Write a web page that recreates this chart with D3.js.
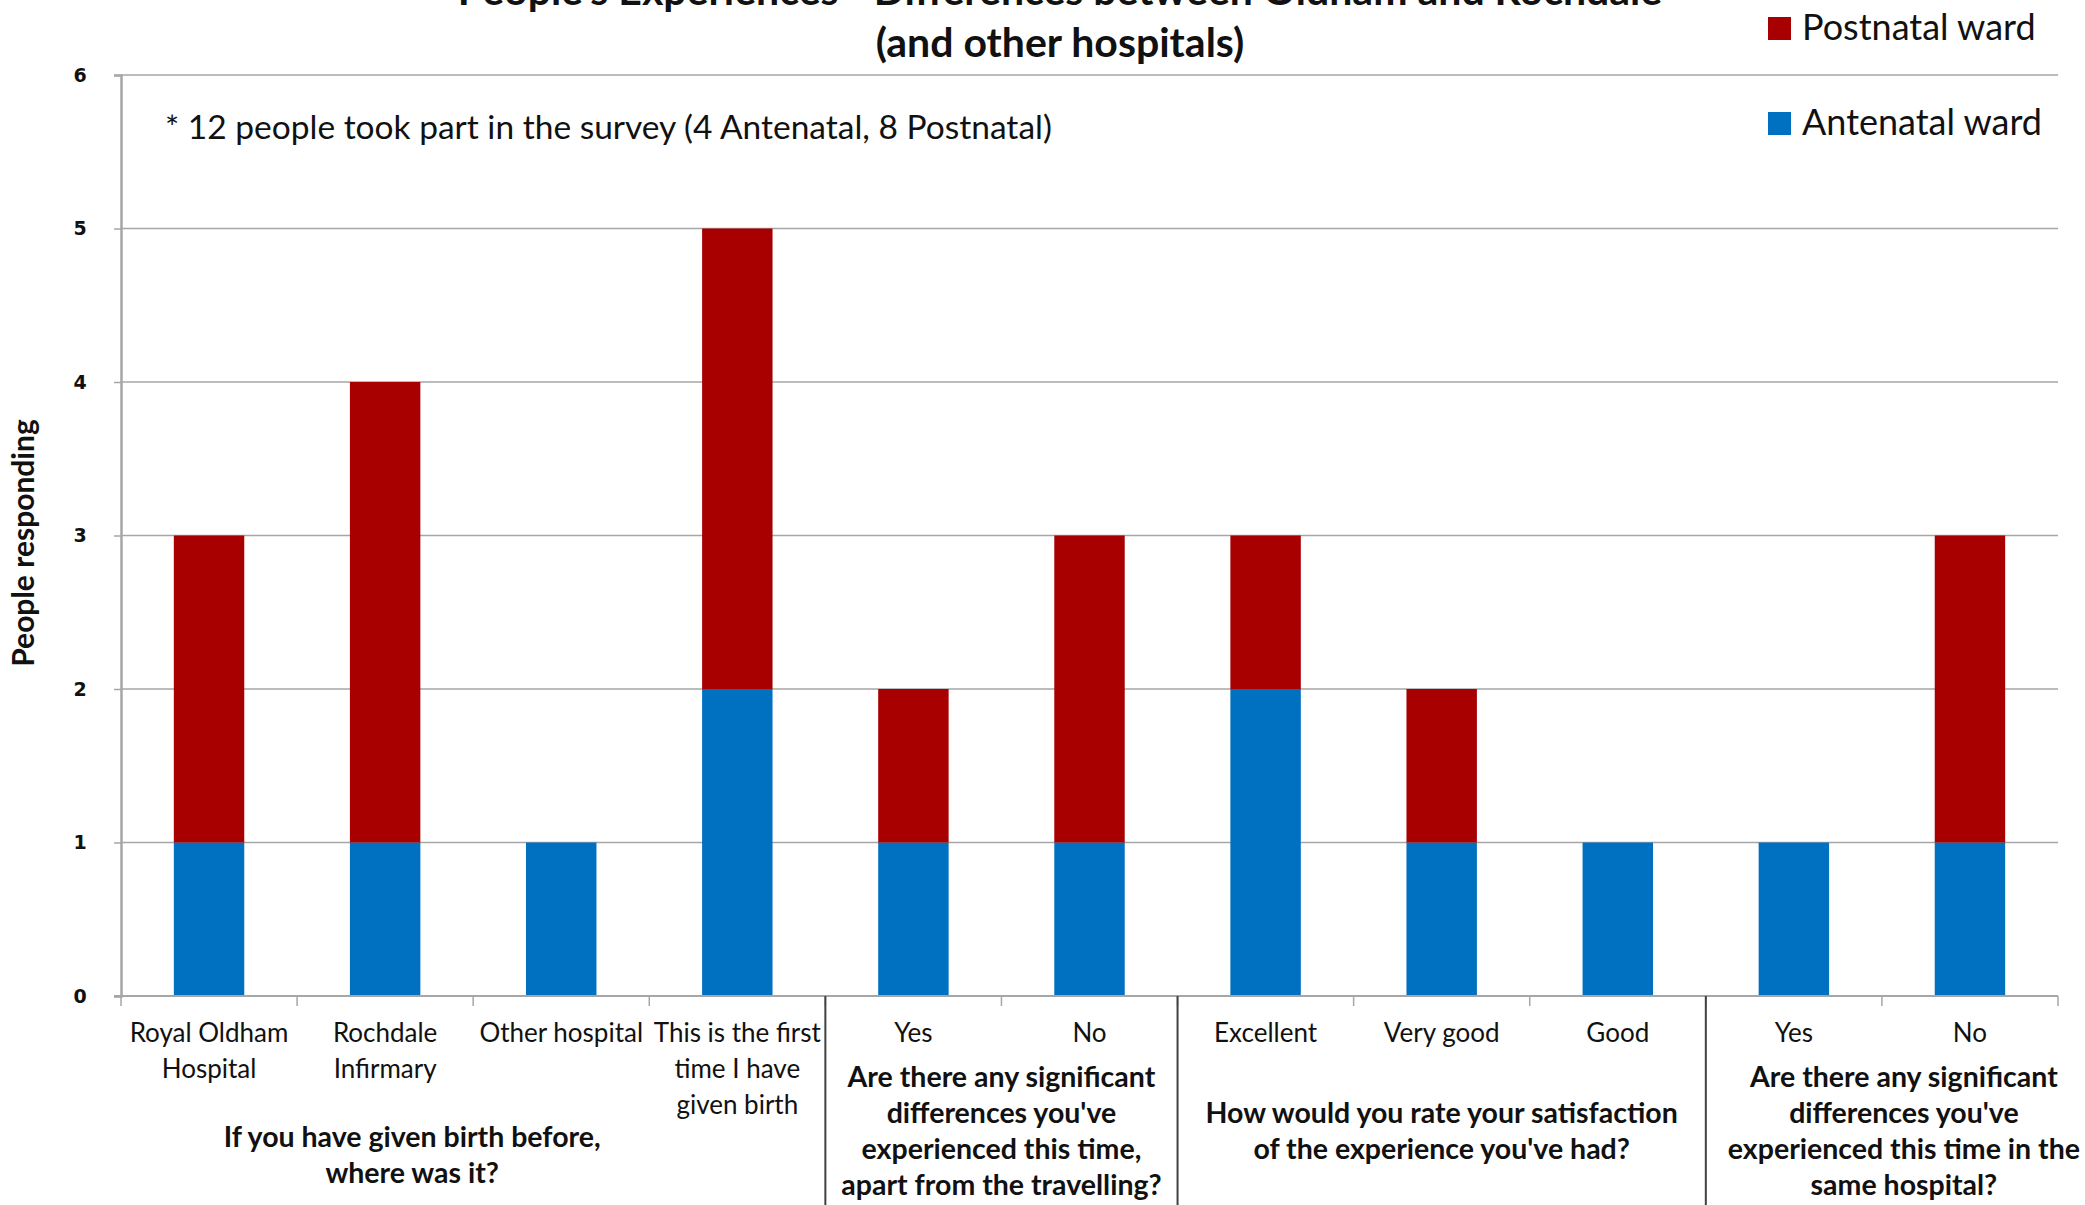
<!DOCTYPE html>
<html>
<head>
<meta charset="utf-8">
<script src="https://cdn.jsdelivr.net/npm/d3@7"></script>
<style>
  body { margin: 0; background: #fff; }
  svg { display: block; font-family: Lato, "Open Sans", sans-serif; }
</style>
</head>
<body>
<div id="chart"></div>
<script>
// chart data
const categoryLabels = [
  ["Royal Oldham", "Hospital"],
  ["Rochdale", "Infirmary"],
  ["Other hospital"],
  ["This is the first", "time I have", "given birth"],
  ["Yes"],
  ["No"],
  ["Excellent"],
  ["Very good"],
  ["Good"],
  ["Yes"],
  ["No"]
];
const antenatal = [1, 1, 1, 2, 1, 1, 2, 1, 1, 1, 1];
const postnatal = [2, 3, 0, 3, 1, 2, 1, 1, 0, 0, 2];
const groupSizes = [4, 2, 3, 2];
const groupLabels = [
  ["If you have given birth before,", "where was it?"],
  ["Are there any significant", "differences you've", "experienced this time,", "apart from the travelling?"],
  ["How would you rate your satisfaction", "of the experience you've had?"],
  ["Are there any significant", "differences you've", "experienced this time in the", "same hospital?"]
];
const yTicks = [0, 1, 2, 3, 4, 5, 6];
const seriesNames = ["Postnatal ward", "Antenatal ward"];
const titleLines = ["People's Experiences - Differences between Oldham and Rochdale", "(and other hospitals)"];
const note = "* 12 people took part in the survey (4 Antenatal, 8 Postnatal)";

const W = 2085, H = 1205;
const colors = { antenatal: "#0070C0", postnatal: "#A80000" };
const plot = { left: 121, right: 2058, top: 75, bottom: 996 };

const svg = d3.select("#chart").append("svg")
  .attr("width", W).attr("height", H);

const idx = d3.range(categoryLabels.length);

const x = d3.scaleBand()
  .domain(idx)
  .range([plot.left, plot.right])
  .paddingInner(0.6)
  .paddingOuter(0.3);

const y = d3.scaleLinear()
  .domain([0, 6])
  .range([plot.bottom, plot.top]);

const step = x.step();
const edge = i => plot.left + i * step;

// gridlines
svg.append("g")
  .selectAll("line")
  .data(yTicks.filter(d => d > 0))
  .join("line")
  .attr("x1", plot.left).attr("x2", plot.right)
  .attr("y1", d => y(d)).attr("y2", d => y(d))
  .attr("stroke", "#a6a6a6").attr("stroke-width", 1.5);

// y axis
const yAxis = svg.append("g")
  .attr("transform", `translate(${plot.left},0)`)
  .call(d3.axisLeft(y).tickValues(yTicks).tickSize(7).tickPadding(34).tickFormat(d3.format("d")));
yAxis.select(".domain").attr("stroke", "#a6a6a6").attr("stroke-width", 2.5);
yAxis.selectAll(".tick line").attr("stroke", "#a6a6a6").attr("stroke-width", 1.5);
yAxis.selectAll(".tick text")
  .attr("font-family", "DejaVu Sans")
  .attr("font-weight", "bold")
  .attr("font-size", 19)
  .attr("fill", "#111")
  .attr("text-anchor", "middle");

// bars
const stack = idx.map(i => ({ i, a: antenatal[i], p: postnatal[i] }));
const bars = svg.append("g");
bars.selectAll("rect.ante")
  .data(stack)
  .join("rect")
  .attr("class", "ante")
  .attr("x", d => x(d.i)).attr("width", x.bandwidth())
  .attr("y", d => y(d.a)).attr("height", d => y(0) - y(d.a))
  .attr("fill", colors.antenatal);
bars.selectAll("rect.post")
  .data(stack.filter(d => d.p > 0))
  .join("rect")
  .attr("class", "post")
  .attr("x", d => x(d.i)).attr("width", x.bandwidth())
  .attr("y", d => y(d.a + d.p)).attr("height", d => y(d.a) - y(d.a + d.p))
  .attr("fill", colors.postnatal);

// x axis line and ticks
svg.append("line")
  .attr("x1", plot.left - 7).attr("x2", plot.right)
  .attr("y1", plot.bottom).attr("y2", plot.bottom)
  .attr("stroke", "#a6a6a6").attr("stroke-width", 2);
svg.append("g")
  .selectAll("line")
  .data(d3.range(categoryLabels.length + 1))
  .join("line")
  .attr("x1", edge).attr("x2", edge)
  .attr("y1", plot.bottom).attr("y2", plot.bottom + 10)
  .attr("stroke", "#a6a6a6").attr("stroke-width", 1.5);

// category labels
const catG = svg.append("g").attr("font-size", 26).attr("text-anchor", "middle").attr("fill", "#111");
idx.forEach(i => {
  const t = catG.append("text").attr("x", x(i) + x.bandwidth() / 2).attr("y", 1042);
  categoryLabels[i].forEach((line, k) => {
    t.append("tspan").attr("x", x(i) + x.bandwidth() / 2).attr("dy", k === 0 ? 0 : 36).text(line);
  });
});

// group separators and group labels
const starts = d3.cumsum([0, ...groupSizes]);
const groupShift = [-61, 0, 0, 22];
const grpG = svg.append("g").attr("font-size", 28.5).attr("font-weight", "bold")
  .attr("text-anchor", "middle").attr("fill", "#111");
groupSizes.forEach((n, g) => {
  const s = starts[g], e = starts[g] + n;
  if (g > 0) {
    svg.append("line")
      .attr("x1", edge(s)).attr("x2", edge(s))
      .attr("y1", plot.bottom).attr("y2", H)
      .attr("stroke", "#404040").attr("stroke-width", 2);
  }
  const cx = (edge(s) + edge(e)) / 2 + groupShift[g];
  const maxCatLines = d3.max(d3.range(s, e), i => categoryLabels[i].length);
  const lines = groupLabels[g];
  const first = Math.max(1131 - (lines.length - 1) * 18, 1033 + (maxCatLines - 1) * 36 + 32);
  const t = grpG.append("text").attr("x", cx).attr("y", first + 10);
  lines.forEach((line, k) => {
    t.append("tspan").attr("x", cx).attr("dy", k === 0 ? 0 : 36).text(line);
  });
});

// y axis title
svg.append("text")
  .attr("transform", "translate(34,543) rotate(-90)")
  .attr("text-anchor", "middle")
  .attr("font-size", 30).attr("font-weight", "bold")
  .attr("fill", "#111")
  .text("People responding");

// title (partly cut off at the top, as in the original)
const titleG = svg.append("g").attr("font-size", 41).attr("font-weight", "bold")
  .attr("text-anchor", "middle").attr("fill", "#111");
titleLines.forEach((line, k) => {
  titleG.append("text").attr("x", 1060).attr("y", 5 + k * 52).text(line);
});

// note
svg.append("text")
  .attr("x", 165).attr("y", 139)
  .attr("font-size", 33.5).attr("fill", "#111")
  .text(note);

// legend
const legend = svg.append("g");
seriesNames.forEach((name, k) => {
  const ly = 17 + k * 95;
  legend.append("rect")
    .attr("x", 1768).attr("y", ly).attr("width", 23).attr("height", 23)
    .attr("fill", k === 0 ? colors.postnatal : colors.antenatal);
  legend.append("text")
    .attr("x", 1802).attr("y", ly + 23)
    .attr("font-size", 36).attr("fill", "#111")
    .text(name);
});
</script>
</body>
</html>
